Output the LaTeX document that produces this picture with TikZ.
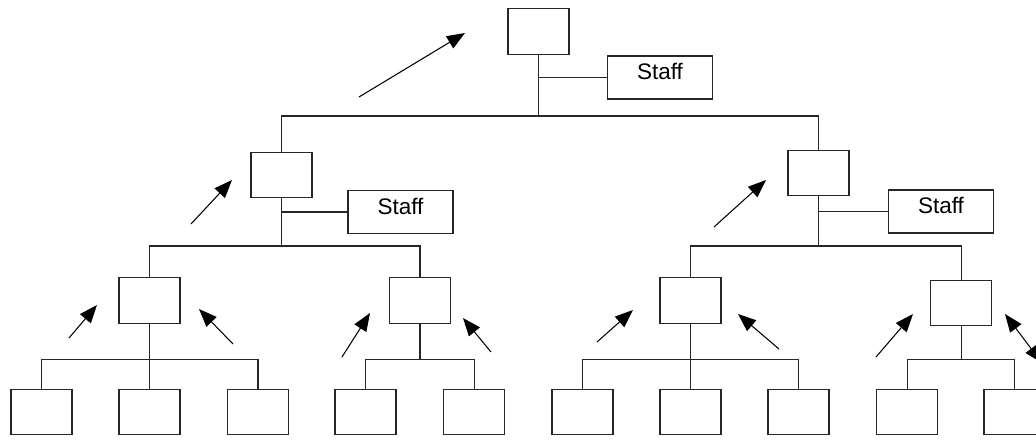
\documentclass[tikz,border=0pt]{standalone}
\usepackage{fontspec}
\setmainfont{Liberation Sans}
\usetikzlibrary{arrows.meta}
\begin{document}
\begin{tikzpicture}[scale=0.1,
  box/.style={draw=black!85, line width=0.3pt, minimum width=6.1mm, minimum height=4.55mm, inner sep=0pt},
  staffbox/.style={draw=black!85, line width=0.3pt, minimum width=10.5mm, minimum height=4.3mm,
    inner sep=0pt, text height=1.6mm, text depth=1.2mm, font=\fontsize{6.4}{7}\selectfont},
  ln/.style={black!85, line width=0.3pt},
  arr/.style={black, line width=0.3pt, -{Triangle[length=1.8mm,width=1.4mm]}}]
\useasboundingbox (0,0) rectangle (103.6,-43.9);
% heads and staff
\node[box] (top) at (53.85,-3.15) {};
\node[staffbox] (stA) at (66,-7.75) {Staff};
\node[box] (L) at (28.15,-17.5) {};
\node[staffbox] (stL) at (40.05,-21.2) {Staff};
\node[box] (R) at (81.85,-17.3) {};
\node[staffbox] (stR) at (94.1,-21.15) {Staff};
\node[box] (LL) at (14.95,-30.05) {};
\node[box] (LR) at (42,-30.05) {};
\node[box] (RL) at (69.05,-30.05) {};
\node[box] (RR) at (96.1,-30.3) {};
% bottom row
\node[box] (a1) at (4.15,-41.2) {};
\node[box] (a2) at (14.95,-41.2) {};
\node[box] (a3) at (25.8,-41.2) {};
\node[box] (b1) at (36.55,-41.2) {};
\node[box] (b2) at (47.4,-41.2) {};
\node[box] (c1) at (58.25,-41.2) {};
\node[box] (c2) at (69.05,-41.2) {};
\node[box] (c3) at (79.85,-41.2) {};
\node[box] (d1) at (90.7,-41.2) {};
\node[box] (d2) at (101.45,-41.2) {};
\coordinate (busA) at (0,-11.6);
\coordinate (busB) at (0,-24.6);
\coordinate (busC) at (0,-35.9);
% lines
\draw[ln] (top.south) -- (top.south |- busA);
\draw[ln] (top.south |- stA.west) -- (stA.west);
\draw[ln] (L.north) |- (R.north |- busA) -- (R.north);
\draw[ln] (L.south) -- (L.south |- busB);
\draw[ln] (L.south |- stL.west) -- (stL.west);
\draw[ln] (R.south) -- (R.south |- busB);
\draw[ln] (R.south |- stR.west) -- (stR.west);
\draw[ln] (LL.north) |- (LR.north |- busB) -- (LR.north);
\draw[ln] (RL.north) |- (RR.north |- busB) -- (RR.north);
\draw[ln] (LL.south) -- (a2.north);
\draw[ln] (a1.north) |- (a3.north |- busC) -- (a3.north);
\draw[ln] (LR.south) -- (LR.south |- busC);
\draw[ln] (b1.north) |- (b2.north |- busC) -- (b2.north);
\draw[ln] (RL.south) -- (c2.north);
\draw[ln] (c1.north) |- (c3.north |- busC) -- (c3.north);
\draw[ln] (RR.south) -- (RR.south |- busC);
\draw[ln] (d1.north) |- (d2.north |- busC) -- (d2.north);
% arrows
\draw[arr] (35.9,-9.7) -- (46.5,-3.3);
\draw[arr] (19.1,-22.4) -- (23.2,-18);
\draw[arr] (71.4,-22.7) -- (76.6,-18);
\draw[arr] (6.9,-33.8) -- (9.7,-30.5);
\draw[arr] (23.3,-34.4) -- (19.9,-30.9);
\draw[arr] (34.2,-35.7) -- (37,-31.3);
\draw[arr] (49.1,-35.2) -- (46.3,-31.8);
\draw[arr] (59.7,-34.2) -- (63.3,-31);
\draw[arr] (77.9,-34.9) -- (73.8,-31.4);
\draw[arr] (87.6,-35.7) -- (91.3,-31.4);
\draw[arr, {Triangle[length=1.8mm,width=1.4mm]}-{Triangle[length=1.8mm,width=1.4mm]}] (100.5,-31.4) -- (104.2,-36.3);
\end{tikzpicture}
\end{document}
